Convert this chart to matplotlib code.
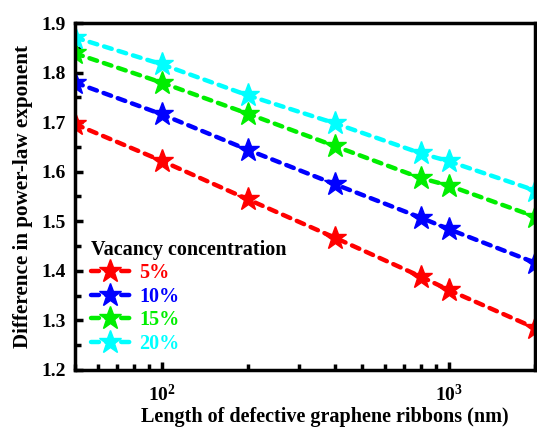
import matplotlib
matplotlib.use("Agg")
import matplotlib.pyplot as plt
from matplotlib.ticker import FixedLocator, LogLocator, NullFormatter

plt.rcParams["font.family"] = ["Liberation Serif", "DejaVu Serif"]
plt.rcParams["font.weight"] = "bold"

lengths = [50, 100, 200, 400, 800, 1000, 2000]
conc_labels = ["5%", "10%", "15%", "20%"]
colors = ["#ff0000", "#0000ff", "#00ee00", "#00ffff"]
exp_5 = [1.696, 1.622, 1.544, 1.467, 1.388, 1.361, 1.284]
exp_10 = [1.780, 1.716, 1.644, 1.575, 1.507, 1.484, 1.416]
exp_15 = [1.839, 1.780, 1.717, 1.652, 1.587, 1.572, 1.509]
exp_20 = [1.871, 1.817, 1.754, 1.698, 1.637, 1.621, 1.562]
series = [exp_5, exp_10, exp_15, exp_20]

fig = plt.figure(figsize=(5.37, 4.29), dpi=100)
ax = fig.add_axes([0.140, 0.138, 0.857, 0.808])

for vals, color, label in zip(series, colors, conc_labels):
    line, = ax.plot(lengths, vals, linestyle=(0, (1.8, 1.6)), linewidth=3.2, color=color,
                    marker="*", markersize=17, markeredgecolor=color, label=label)
    line.set_dash_capstyle("round")

ax.set_xscale("log")
ax.set_xlim(50, 2000)
ax.set_ylim(1.2, 1.9)
ax.yaxis.set_major_locator(FixedLocator([1.2, 1.3, 1.4, 1.5, 1.6, 1.7, 1.8, 1.9]))
ax.yaxis.set_minor_locator(FixedLocator([1.25, 1.35, 1.45, 1.55, 1.65, 1.75, 1.85]))
ax.xaxis.set_minor_locator(LogLocator(base=10, subs=range(2, 10)))
ax.xaxis.set_minor_formatter(NullFormatter())

for sp in ax.spines.values():
    sp.set_linewidth(2.5)
ax.tick_params(which="major", direction="in", length=6, width=2.5, labelsize=14)
ax.tick_params(axis="x", which="major", pad=10)
ax.tick_params(axis="y", which="major", pad=7)
ax.tick_params(which="minor", direction="in", length=4, width=2.5)
ax.tick_params(axis="y", which="both", right=False)
for t in ax.get_yticklabels():
    t.set_fontweight("bold")

ax.set_xlabel("Length of defective graphene ribbons (nm)", fontsize=14.5, fontweight="bold")
ax.xaxis.set_label_coords(0.543, -0.108)
ax.set_ylabel("Difference in power-law exponent", fontsize=15.2, fontweight="bold", labelpad=6)

leg = ax.legend(title="Vacancy concentration", loc="lower left", bbox_to_anchor=(0.0, 0.0),
                frameon=False, fontsize=14.5, title_fontsize=14.5, handlelength=1.9,
                handletextpad=0.5, labelspacing=0.17, borderaxespad=0.4)
leg.get_title().set_fontweight("bold")
leg._legend_box.align = "left"
for text, color in zip(leg.get_texts(), colors):
    text.set_color(color)
    text.set_fontweight("bold")

fig.savefig("out.png", dpi=100)
